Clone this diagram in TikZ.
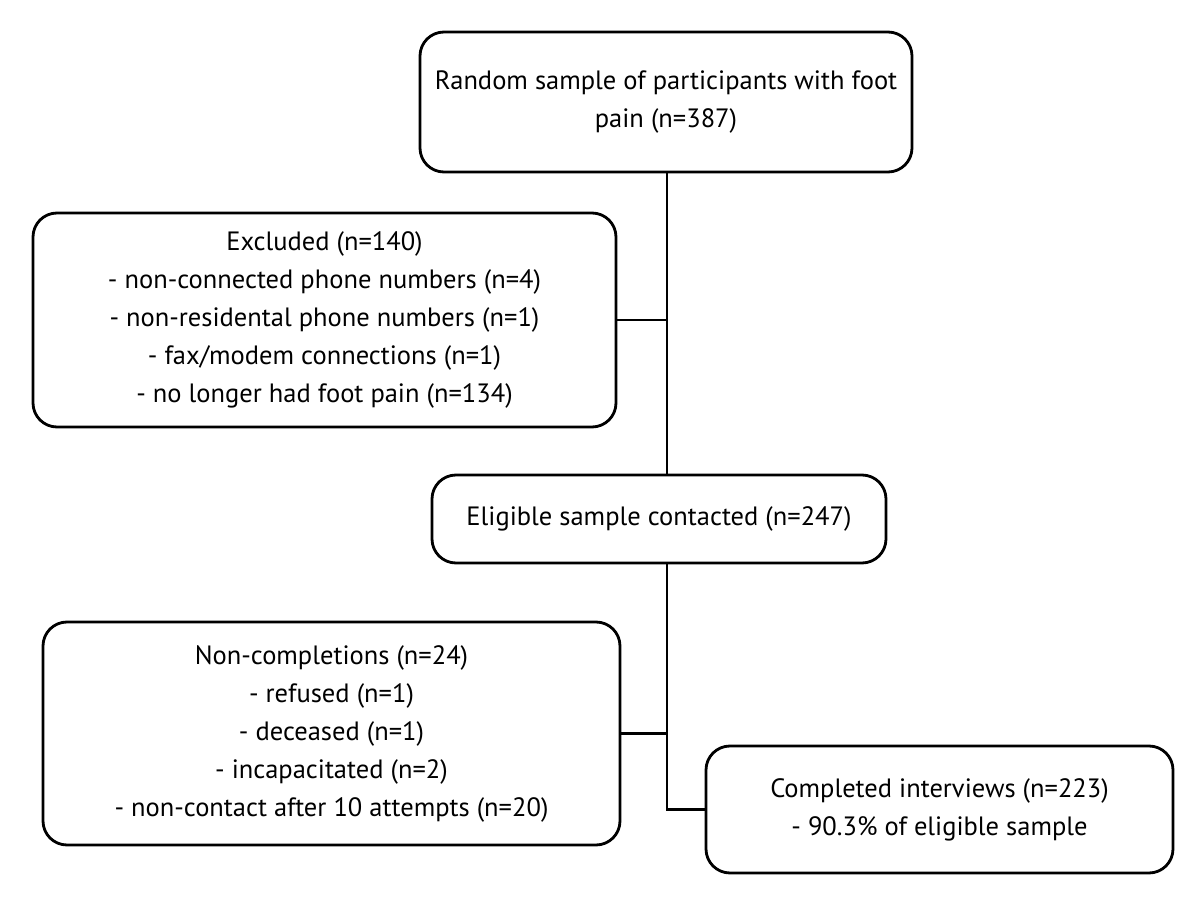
\documentclass[tikz,border=0pt]{standalone}
\usepackage{fontspec}
\setmainfont{PT Sans}
\begin{document}
\begin{tikzpicture}[x=1pt,y=-1pt,
  box/.style={draw=black, line width=2.8pt, rounded corners=24pt, align=center,
    inner sep=0pt, font=\fontsize{26.5}{38}\selectfont},
  conn/.style={draw=black, line width=2.8pt}]
\useasboundingbox (0,0) rectangle (1200,917);
\node[box, minimum width=492pt, minimum height=140pt] (b1) at (666,102)
  {Random sample of participants with foot\\pain (n=387)};
\node[box, minimum width=583pt, minimum height=214pt] (b2) at (324.5,320)
  {Excluded (n=140)\\- non-connected phone numbers (n=4)\\- non-residental phone numbers (n=1)\\- fax/modem connections (n=1)\\- no longer had foot pain (n=134)};
\node[box, minimum width=454pt, minimum height=88pt] (b3) at (659,519)
  {Eligible sample contacted (n=247)};
\node[box, minimum width=577pt, minimum height=223pt] (b4) at (331.5,733.5)
  {Non-completions (n=24)\\- refused (n=1)\\- deceased (n=1)\\- incapacitated (n=2)\\- non-contact after 10 attempts (n=20)};
\node[box, minimum width=467pt, minimum height=127pt] (b5) at (939.5,809.5)
  {Completed interviews (n=223)\\- 90.3\% of eligible sample};
\coordinate (top) at (b1.south -| 667,0);
\coordinate (c1) at (b2.east -| top);
\coordinate (c2) at (b3.north -| top);
\coordinate (c3) at (b3.south -| top);
\coordinate (c4) at (b4.east -| top);
\coordinate (c5) at (b5.west -| top);
\draw[conn] (top) -- (c2);
\draw[conn] (b2.east) -- (c1);
\draw[conn] (c3) -- (c5) -- (b5.west);
\draw[conn] (b4.east) -- (c4);
\end{tikzpicture}
\end{document}
